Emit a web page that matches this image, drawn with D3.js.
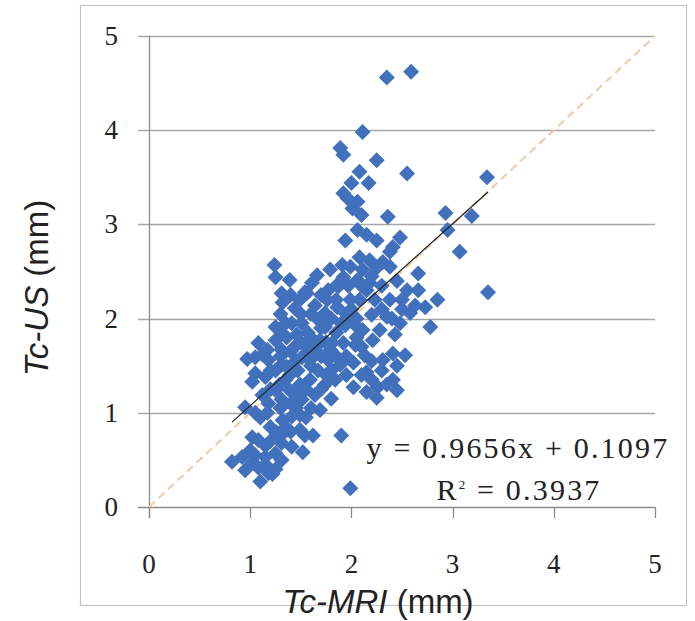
<!DOCTYPE html>
<html>
<head>
<meta charset="utf-8">
<script src="https://cdn.jsdelivr.net/npm/d3@7"></script>
<style>
  body { margin: 0; background: #fff; }
  svg { display: block; }
</style>
</head>
<body>
<div id="vis"></div>
<script>
// Tc-MRI (x) vs Tc-US (y), in mm
var mriValues = [
  2.35, 2.59, 2.11, 1.89, 1.92, 2.25, 2.55, 2.08, 2.17, 2.00, 1.92, 1.96, 2.06, 2.01, 2.10, 2.36, 2.93, 3.19, 2.95, 3.34, 3.07, 3.35,
  2.15, 2.25, 2.48, 2.41, 2.38, 2.08, 2.18, 2.31, 1.99, 2.11, 2.25, 2.38, 2.66, 1.92, 2.06, 2.18, 1.86, 2.55, 2.66, 2.85, 2.73, 2.58,
  2.48, 2.78, 2.35, 2.28, 2.11, 2.21, 1.99, 1.86, 1.92, 1.86, 2.41, 2.53, 2.31, 2.02, 2.15, 2.02, 2.26, 2.41, 2.45, 2.25, 2.15, 1.90, 1.99,
  1.24, 1.25, 1.66, 1.31, 1.32, 1.54, 1.49, 1.77, 1.87, 1.44, 1.64, 1.74, 1.25, 1.31, 1.41, 1.51, 1.57, 1.74, 1.81, 1.25, 1.08, 1.17,
  1.31, 1.44, 1.51, 1.64, 1.05, 1.18, 1.31, 1.47, 1.77, 1.05, 1.56, 1.76, 1.20, 1.36, 1.02, 1.15, 0.95, 1.05, 1.18, 1.31, 1.51, 1.41,
  1.17, 1.32, 1.02, 1.08, 1.26, 1.31, 1.41, 1.52, 1.54, 1.62, 0.82, 0.92, 1.02, 0.95, 1.08, 1.15, 1.25, 1.31, 1.18, 1.10, 1.22,
  1.67, 1.69, 1.79, 1.89, 1.67, 1.59, 1.74, 1.84, 1.49, 1.39, 1.64, 1.39, 1.29, 1.69, 1.49, 1.59, 1.94, 2.04, 2.13, 2.08, 2.23, 2.38,
  2.20, 2.04, 2.43, 1.99, 1.91, 1.79, 1.94, 2.06, 1.61, 1.39, 1.12, 1.25, 1.49, 2.63,
  0.97, 1.12, 1.36, 1.46, 1.56, 1.70, 1.80, 1.95, 1.80, 1.60, 1.40, 1.35, 1.20, 1.45, 1.95, 2.05, 1.97, 2.15, 2.30, 2.45, 2.30, 2.50,
  1.70, 1.80, 1.60, 1.10, 1.00, 1.15,
  1.30, 1.40, 1.50, 1.55, 1.60, 1.65, 1.70, 1.75, 1.85, 1.90, 1.95, 2.00, 2.05, 1.85, 1.75, 1.70, 1.55, 1.45, 1.35, 1.25, 1.20, 1.30,
  1.45, 1.55, 1.40, 1.30, 1.20, 1.15, 1.25, 1.05, 1.35, 1.40, 1.30, 1.60, 1.50, 2.10, 2.20, 2.30, 2.35, 2.20, 2.10, 2.45, 2.40, 2.50,
  2.20, 2.10
];
var usValues = [
  4.56, 4.62, 3.98, 3.81, 3.74, 3.68, 3.54, 3.56, 3.44, 3.44, 3.33, 3.28, 3.24, 3.17, 3.10, 3.08, 3.12, 3.09, 2.94, 3.50, 2.71, 2.28,
  2.89, 2.83, 2.86, 2.76, 2.71, 2.65, 2.62, 2.60, 2.55, 2.52, 2.54, 2.55, 2.48, 2.44, 2.41, 2.38, 2.36, 2.30, 2.30, 2.20, 2.12, 2.06,
  1.95, 1.91, 2.02, 1.88, 1.88, 1.77, 2.02, 2.12, 1.74, 1.59, 1.63, 1.61, 1.56, 1.53, 1.43, 1.27, 1.27, 1.35, 1.24, 1.16, 1.22, 0.76, 0.20,
  2.57, 2.44, 2.46, 2.27, 2.17, 2.28, 2.20, 2.30, 2.34, 2.11, 2.14, 2.06, 1.91, 1.85, 1.95, 1.95, 1.85, 1.91, 1.74, 1.77, 1.74, 1.67,
  1.67, 1.70, 1.59, 1.63, 1.59, 1.56, 1.51, 1.45, 1.56, 1.42, 2.27, 2.20, 1.45, 1.49, 1.33, 1.38, 1.06, 1.00, 1.10, 1.14, 1.14, 0.96,
  1.00, 0.92, 0.74, 0.71, 0.79, 0.68, 0.64, 0.58, 0.76, 0.76, 0.48, 0.53, 0.47, 0.39, 0.42, 0.53, 0.57, 0.50, 0.36, 0.27, 0.35,
  1.99, 1.77, 1.67, 1.51, 1.45, 1.35, 1.30, 1.35, 1.30, 1.24, 1.19, 1.40, 1.30, 1.03, 0.98, 1.56, 1.93, 1.72, 1.61, 2.20, 2.20, 2.20,
  2.04, 1.93, 1.83, 2.20, 2.57, 2.52, 2.83, 2.94, 2.38, 2.41, 1.19, 1.24, 0.82, 2.14,
  1.57, 1.62, 1.80, 1.83, 1.70, 1.60, 1.45, 1.40, 1.15, 1.05, 1.10, 0.85, 0.85, 1.55, 1.60, 1.80, 2.35, 2.30, 2.35, 2.40, 2.10, 2.20,
  2.25, 2.00, 1.80, 0.95, 0.60, 0.65,
  1.60, 1.65, 1.75, 1.60, 1.50, 1.70, 1.90, 1.75, 1.85, 1.95, 2.05, 2.10, 2.00, 2.20, 1.40, 1.25, 1.25, 1.20, 1.35, 1.45, 1.25, 1.05,
  1.05, 0.95, 0.80, 0.75, 0.70, 0.45, 0.40, 0.55, 1.95, 2.25, 2.05, 2.05, 2.05, 1.70, 1.55, 1.45, 1.30, 1.35, 1.40, 1.50, 2.00, 2.10,
  2.45, 2.35
];
var tickValues = [0, 1, 2, 3, 4, 5];
var fitSlope = 0.9656;
var fitIntercept = 0.1097;
var fitRange = [0.82, 3.35];
var equationText = 'y = 0.9656x + 0.1097';
var rSquaredText = '0.3937';

var width = 695;
var height = 621;
var plot = { left: 149, right: 655, top: 36, bottom: 507 };

var svg = d3.select('#vis').append('svg')
  .attr('width', width)
  .attr('height', height);

svg.append('rect')
  .attr('width', width).attr('height', height)
  .attr('fill', '#fff');

// outer frame of the chart area
svg.append('rect')
  .attr('x', 80.5).attr('y', 5.5)
  .attr('width', 606).attr('height', 600)
  .attr('fill', 'none')
  .attr('stroke', '#c4c4c4')
  .attr('stroke-width', 1.2);

var x = d3.scaleLinear().domain([0, 5]).range([plot.left, plot.right]);
var y = d3.scaleLinear().domain([0, 5]).range([plot.bottom, plot.top]);

var serif = '"Liberation Serif", "Times New Roman", serif';
var sans = '"Liberation Sans", Arial, sans-serif';

// horizontal gridlines (ticks stick out to the left)
svg.append('g')
  .selectAll('line')
  .data(tickValues)
  .join('line')
  .attr('x1', plot.left - 11)
  .attr('x2', plot.right)
  .attr('y1', function (d) { return Math.round(y(d)) + 0.5; })
  .attr('y2', function (d) { return Math.round(y(d)) + 0.5; })
  .attr('stroke', function (d) { return d === 0 ? '#8c8c8c' : '#a6a6a6'; })
  .attr('stroke-width', 1.3);

// x ticks
svg.append('g')
  .selectAll('line')
  .data(tickValues)
  .join('line')
  .attr('x1', function (d) { return Math.round(x(d)) + 0.5; })
  .attr('x2', function (d) { return Math.round(x(d)) + 0.5; })
  .attr('y1', plot.bottom)
  .attr('y2', plot.bottom + 11)
  .attr('stroke', '#8c8c8c')
  .attr('stroke-width', 1.3);

// y axis line
svg.append('line')
  .attr('x1', plot.left + 0.5).attr('x2', plot.left + 0.5)
  .attr('y1', plot.top).attr('y2', plot.bottom + 11)
  .attr('stroke', '#8c8c8c')
  .attr('stroke-width', 1.3);

// tick labels
svg.append('g')
  .selectAll('text')
  .data(tickValues)
  .join('text')
  .attr('x', plot.left - 31)
  .attr('y', function (d) { return y(d) + 9; })
  .attr('text-anchor', 'end')
  .style('font-family', serif)
  .style('font-size', '27px')
  .style('fill', '#222')
  .text(function (d) { return d; });

svg.append('g')
  .selectAll('text')
  .data(tickValues)
  .join('text')
  .attr('x', function (d) { return x(d); })
  .attr('y', 573)
  .attr('text-anchor', 'middle')
  .style('font-family', serif)
  .style('font-size', '27px')
  .style('fill', '#222')
  .text(function (d) { return d; });

// line of identity
svg.append('line')
  .attr('x1', x(0)).attr('y1', y(0))
  .attr('x2', x(5)).attr('y2', y(5))
  .attr('stroke', '#f3c9a4')
  .attr('stroke-width', 2)
  .attr('stroke-dasharray', '8,5');

// scatter points
var points = mriValues.map(function (d, i) { return { mri: d, us: usValues[i] }; });
var diamond = 'M0,-8L8,0L0,8L-8,0Z';

svg.append('g')
  .selectAll('path')
  .data(points)
  .join('path')
  .attr('d', diamond)
  .attr('transform', function (d) { return 'translate(' + x(d.mri) + ',' + y(d.us) + ')'; })
  .attr('fill', '#4170bc');

// linear fit
var fitLine = d3.line()
  .x(function (d) { return x(d); })
  .y(function (d) { return y(fitSlope * d + fitIntercept); });

svg.append('path')
  .datum(fitRange)
  .attr('d', fitLine)
  .attr('fill', 'none')
  .attr('stroke', '#1e1e1e')
  .attr('stroke-width', 1.2);

// equation labels
svg.append('text')
  .attr('x', 518).attr('y', 458)
  .attr('text-anchor', 'middle')
  .style('font-family', serif)
  .style('font-size', '30px')
  .style('letter-spacing', '2.2px')
  .style('fill', '#222')
  .text(equationText);

var r2 = svg.append('text')
  .attr('x', 519).attr('y', 500)
  .attr('text-anchor', 'middle')
  .style('font-family', serif)
  .style('font-size', '30px')
  .style('letter-spacing', '2.2px')
  .style('fill', '#222');
r2.append('tspan').text('R');
r2.append('tspan').attr('dy', -11).style('font-size', '13px').text('2');
r2.append('tspan').attr('dy', 11).text(' = ' + rSquaredText);

// axis titles
var xTitle = svg.append('text')
  .attr('x', 378).attr('y', 613)
  .attr('text-anchor', 'middle')
  .style('font-family', sans)
  .style('font-size', '33px')
  .style('fill', '#222');
xTitle.append('tspan').style('font-style', 'italic').text('Tc-MRI');
xTitle.append('tspan').text(' (mm)');

var yTitle = svg.append('text')
  .attr('transform', 'translate(48,288) rotate(-90)')
  .attr('text-anchor', 'middle')
  .style('font-family', sans)
  .style('font-size', '33px')
  .style('fill', '#222');
yTitle.append('tspan').style('font-style', 'italic').text('Tc-US');
yTitle.append('tspan').text(' (mm)');
</script>
</body>
</html>
